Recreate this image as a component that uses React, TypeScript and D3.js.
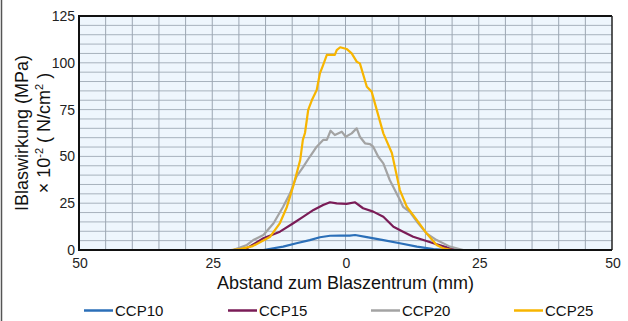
import React from "react";
import * as d3 from "d3";

const W = 628;
const H = 321;

const seriesNames = ["CCP10", "CCP15", "CCP20", "CCP25"];
const seriesColors = ["#2b6fb8", "#7a1c57", "#a3a3a3", "#f7b500"];

const xTicks = [-50, -25, 0, 25, 50];
const xTickLabels = ["50", "25", "0", "25", "50"];
const yTicks = [0, 25, 50, 75, 100, 125];

const ccp10X = [-24, -15.4, -11.7, -9.2, -6.7, -4.8, -2.9, -1.0, 0.8, 1.8, 4.0, 7.1, 10.2, 13.4, 16.5, 19, 22];
const ccp10Y = [0, 0, 1.8, 3.6, 5.3, 6.8, 7.6, 7.7, 7.7, 8.0, 6.9, 5.3, 3.6, 1.8, 0.5, 0, 0];

const ccp15X = [-24, -21, -18.5, -15.4, -12.3, -9.8, -7.9, -6.0, -4.2, -2.9, -1.65, 0.2, 1.8, 3.3, 5.2, 7.1, 9.0, 10.8, 12.7, 14.6, 16.5, 19.0, 20.9, 23];
const ccp15Y = [0, 0, 0.9, 6.25, 9.8, 14.3, 17.8, 21.4, 24, 25.5, 24.9, 24.6, 25.5, 22.3, 20.5, 17.8, 12.4, 9.8, 7.1, 5.3, 3.6, 1.4, 0, 0];

const ccp20X = [-24, -21.1, -18.5, -17.3, -15.4, -13.5, -11.7, -10.4, -9.2, -7.9, -6.7, -5.4, -4.2, -3.5, -2.8, -2.0, -0.7, 0.04, 1.16, 2.1, 2.7, 3.66, 4.6, 5.2, 6.15, 7.1, 8.3, 9.9, 10.8, 12.1, 13.4, 15.2, 17.1, 19.6, 22.1, 24];
const ccp20Y = [0, 0, 2.7, 5.3, 8, 14.3, 23.1, 30.3, 39.2, 44.5, 49.8, 55.2, 58.8, 58.8, 63.7, 61.4, 63.2, 60.5, 62.3, 65, 60.5, 57, 56.6, 55.2, 49.8, 46.3, 37.4, 28.5, 23.1, 20.3, 15.1, 8.9, 5.3, 1.8, 0, 0];

const ccp25X = [-24, -21.5, -19.8, -17.4, -14.2, -12.3, -11.0, -9.85, -8.5, -8.0, -7.6, -7.0, -6.3, -5.4, -4.8, -4.2, -3.5, -2.0, -1.65, -1.0, 0.2, 1.16, 2.1, 2.7, 4.0, 4.9, 7.1, 8.7, 10.2, 11.5, 13.4, 15.2, 17.1, 18.3, 20, 23];
const ccp25Y = [0, 0, 0.5, 2.1, 6.9, 14.4, 23, 33.7, 48, 58.8, 62.5, 74.8, 80.1, 85.5, 94.4, 98.8, 104.2, 104.2, 106.8, 108.3, 107.4, 105, 100.6, 99.7, 87.2, 84.6, 62.3, 51.8, 32, 23.1, 16, 8.9, 2.7, 0.9, 0, 0];

const seriesX = [ccp10X, ccp15X, ccp20X, ccp25X];
const seriesY = [ccp10Y, ccp15Y, ccp20Y, ccp25Y];

const plot = { left: 79, right: 612, top: 16, bottom: 250 };

export default function App() {
  const x = d3.scaleLinear().domain([-50, 50]).range([plot.left, plot.right]);
  const y = d3.scaleLinear().domain([0, 125]).range([plot.bottom, plot.top]);
  const vGrid = d3.range(-45, 50, 5);
  const hGrid = d3.range(5, 125, 5);
  const line = d3
    .line<[number, number]>()
    .x((d) => x(d[0]))
    .y((d) => y(d[1]));
  const font = "'Liberation Sans', Arial, sans-serif";
  const legendX = [84, 228, 371, 514];

  return (
    <svg
      width={W}
      height={H}
      style={{ position: "absolute", left: 0, top: 0, background: "#fff" }}
      fontFamily={font}
    >
      <line x1={1.5} x2={1.5} y1={0} y2={H} stroke="#555" strokeWidth={1.5} />
      <rect
        x={plot.left}
        y={plot.top}
        width={plot.right - plot.left}
        height={plot.bottom - plot.top}
        fill="#eef6fd"
      />
      {hGrid.map((v) => (
        <line
          key={"h" + v}
          x1={plot.left}
          x2={plot.right}
          y1={y(v)}
          y2={y(v)}
          stroke="#a7b2bd"
          strokeWidth={1}
        />
      ))}
      {vGrid.map((v) => (
        <line
          key={"v" + v}
          x1={x(v)}
          x2={x(v)}
          y1={plot.top}
          y2={plot.bottom}
          stroke="#9ca7b3"
          strokeWidth={1}
        />
      ))}
      {seriesNames.map((n, i) => (
        <path
          key={n}
          d={line(seriesX[i].map((v, j) => [v, seriesY[i][j]] as [number, number])) || ""}
          fill="none"
          stroke={seriesColors[i]}
          strokeWidth={2.2}
          strokeLinejoin="round"
        />
      ))}
      <line x1={plot.left} x2={plot.right} y1={plot.top} y2={plot.top} stroke="#111" strokeWidth={2} />
      <line x1={plot.right} x2={plot.right} y1={plot.top} y2={plot.bottom} stroke="#222" strokeWidth={1.5} />
      <line x1={plot.left} x2={plot.left} y1={plot.top - 1} y2={plot.bottom + 1} stroke="#111" strokeWidth={2} />
      <line x1={plot.left} x2={plot.right} y1={plot.bottom} y2={plot.bottom} stroke="#111" strokeWidth={2} />
      {yTicks.map((t) => (
        <text key={"yt" + t} x={75} y={y(t) + 5} textAnchor="end" fontSize={14} fill="#222">
          {t}
        </text>
      ))}
      {xTicks.map((t, i) => (
        <text key={"xt" + t} x={x(t) + 1} y={268} textAnchor="middle" fontSize={14} fill="#222">
          {xTickLabels[i]}
        </text>
      ))}
      <text x={x(0)} y={289} textAnchor="middle" fontSize={18} fill="#111">
        Abstand zum Blaszentrum (mm)
      </text>
      <text
        transform={`translate(28, ${(plot.top + plot.bottom) / 2}) rotate(-90)`}
        textAnchor="middle"
        fontSize={18}
        fill="#111"
      >
        IBlaswirkung (MPa)
      </text>
      <text
        transform={`translate(50, ${(plot.top + plot.bottom) / 2}) rotate(-90)`}
        textAnchor="middle"
        fontSize={18}
        fill="#111"
      >
        × 10
        <tspan fontSize={11} dy={-7}>-2</tspan>
        <tspan dy={7}> ( N/cm</tspan>
        <tspan fontSize={11} dy={-7}>2</tspan>
        <tspan dy={7}> )</tspan>
      </text>
      {seriesNames.map((n, i) => (
        <g key={"lg" + n}>
          <line
            x1={legendX[i]}
            x2={legendX[i] + 29}
            y1={310.5}
            y2={310.5}
            stroke={seriesColors[i]}
            strokeWidth={2.5}
          />
          <text x={legendX[i] + 31} y={315.5} fontSize={15} fill="#111">
            {n}
          </text>
        </g>
      ))}
    </svg>
  );
}
